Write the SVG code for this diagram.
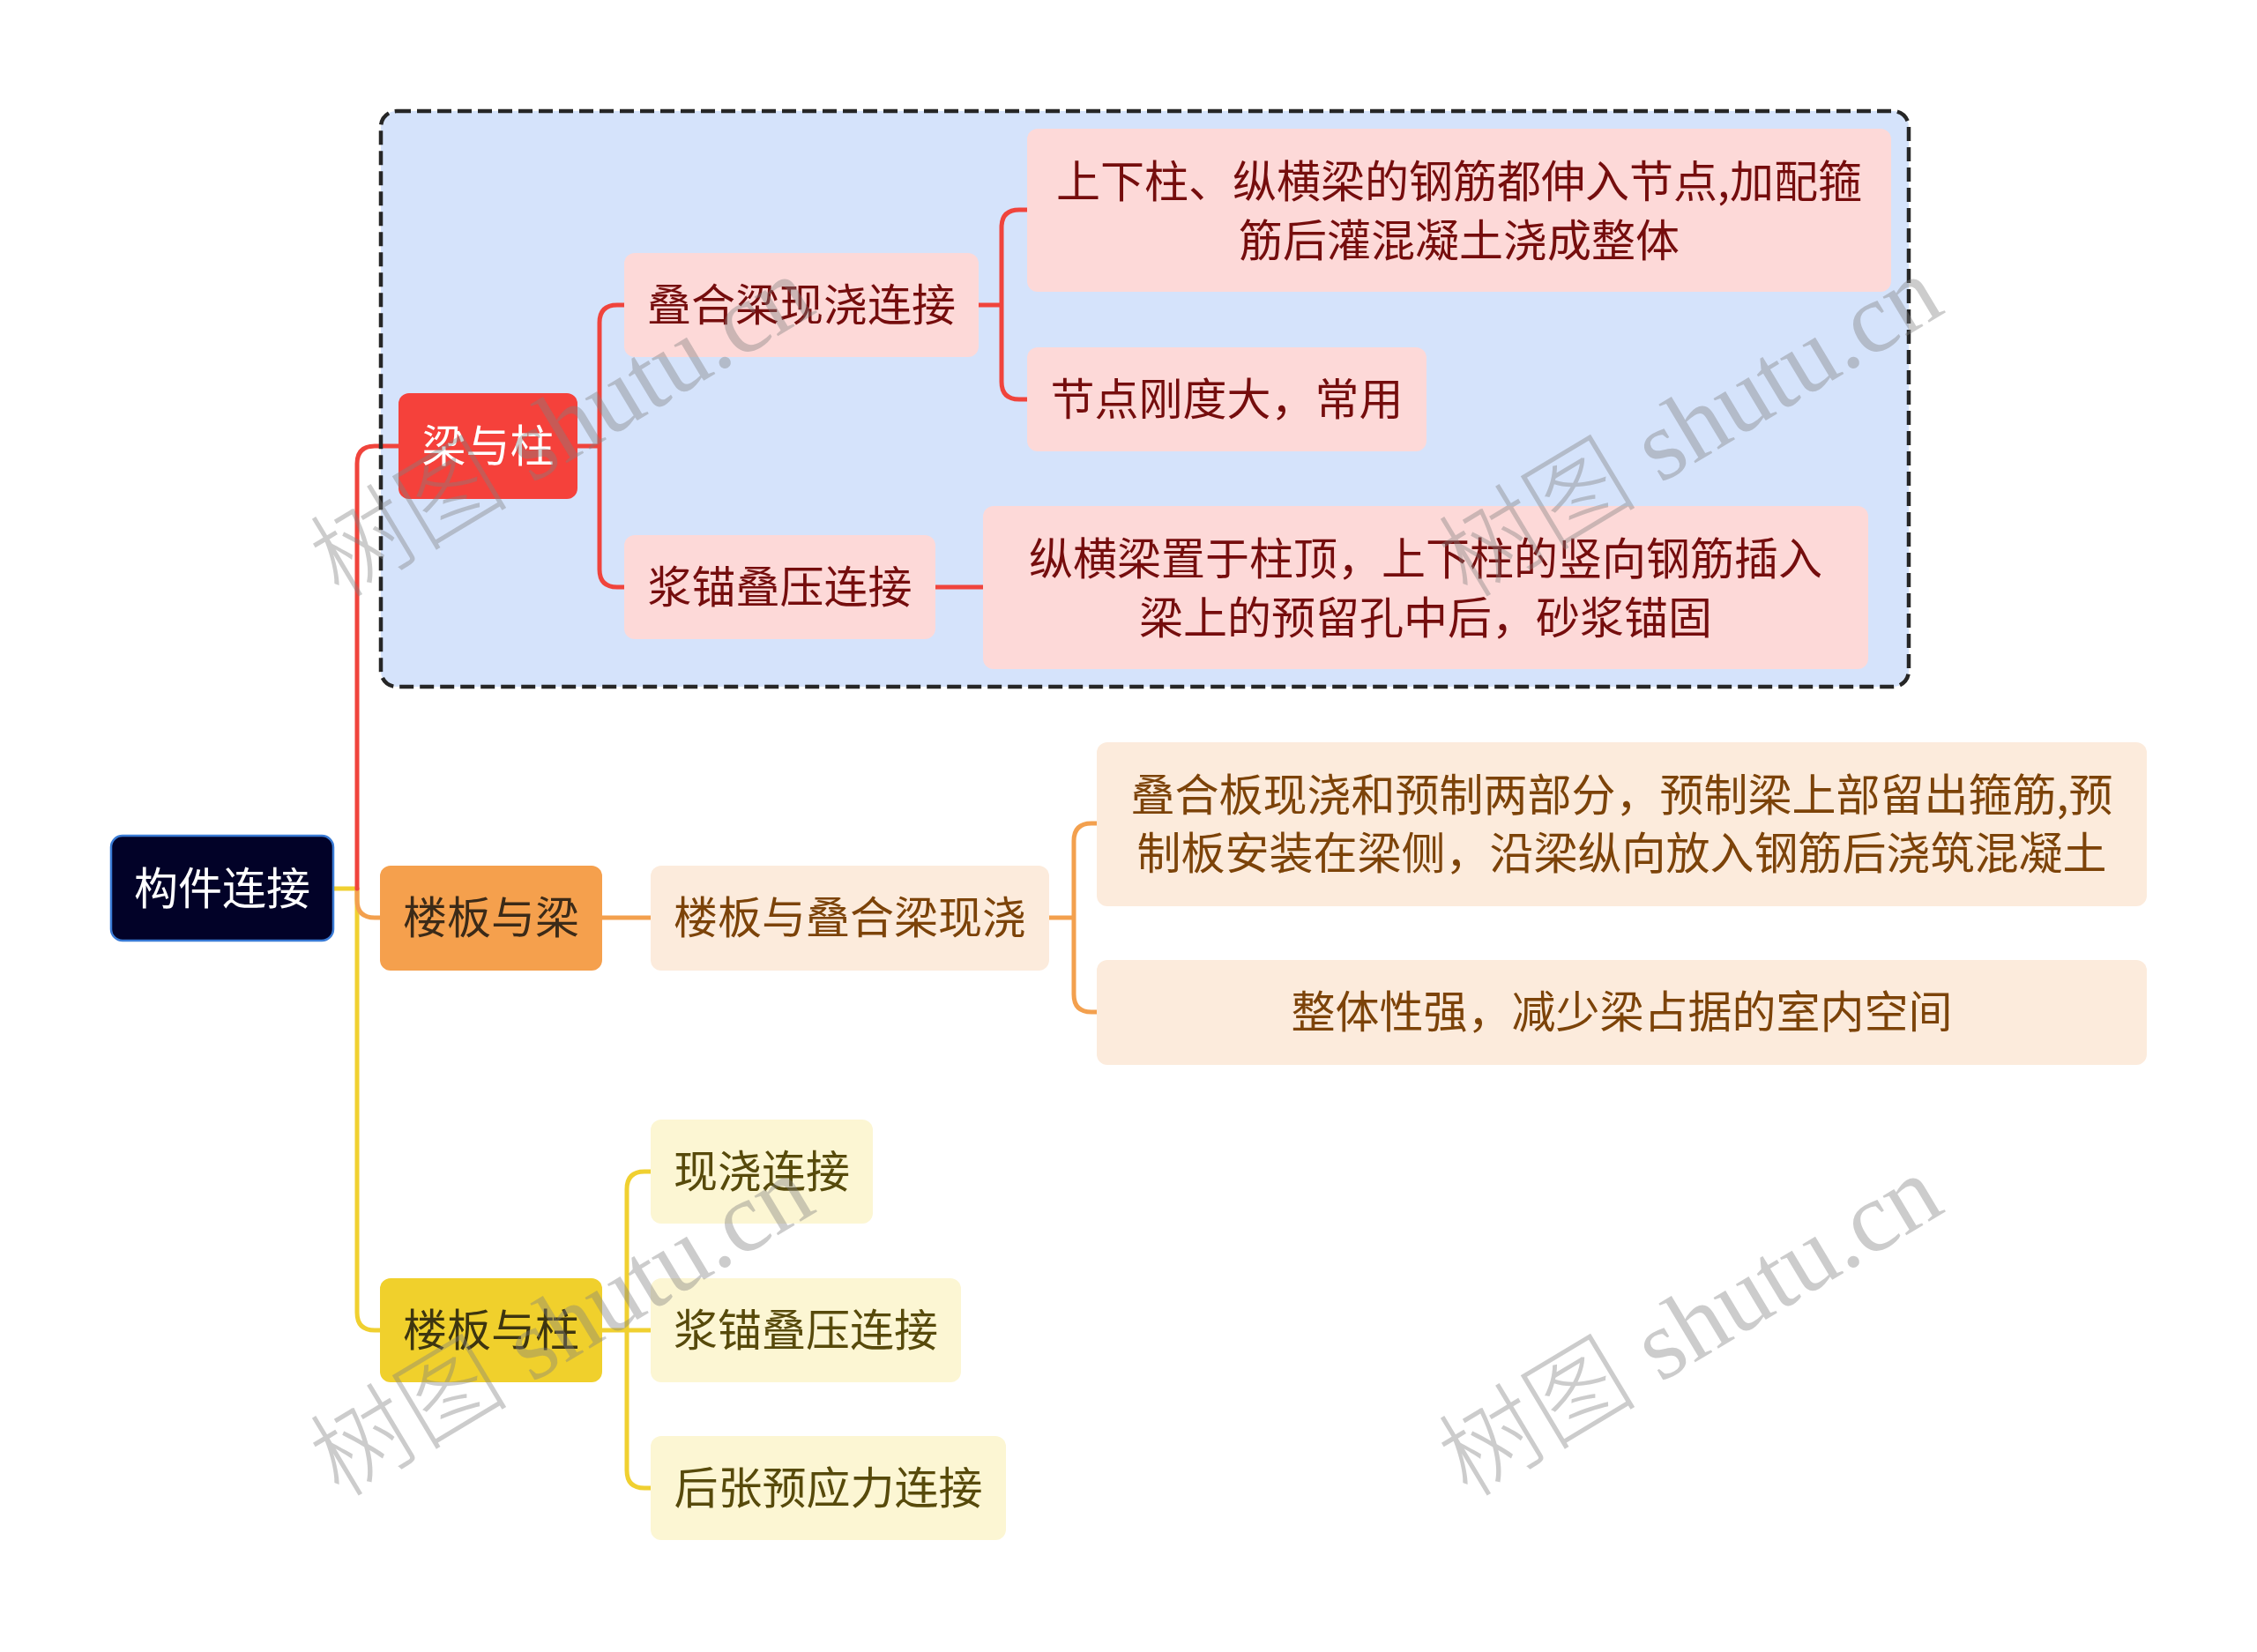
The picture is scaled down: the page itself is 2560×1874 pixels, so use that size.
<svg xmlns="http://www.w3.org/2000/svg" width="2560" height="1874" viewBox="0 0 2560 1874">
<style>
text{font-family:"Noto Sans CJK SC","Noto Sans",sans-serif;font-size:50px;text-anchor:middle}
.ln{fill:none;stroke-width:5;stroke-linecap:round;stroke-linejoin:round}
.r{stroke:#f0443c}.o{stroke:#f3a04e}.y{stroke:#f0d030}
.cr{fill:#fdd9d8}.tr{fill:#750d0d}
.co{fill:#fcebdc}.to{fill:#7c4309}
.cy{fill:#fcf6d3}.ty{fill:#574a0b}
.wm{font-family:"Liberation Serif","Noto Sans CJK SC",serif;font-size:113px;font-weight:300;text-anchor:start;fill:#808080;fill-opacity:0.4}
</style>
<rect width="2560" height="1874" fill="#ffffff"/>
<rect id="boundary-fill" x="432" y="126" width="1733" height="653" rx="18" fill="#d5e3fb"/>
<g id="connectors">
<path class="ln y" d="M378 1008 H405 V1489 Q405 1509 425 1509 H431"/>
<path class="ln o" d="M405 1008 V1021 Q405 1041 425 1041 H431"/>
<path class="ln r" d="M405 1008 V526 Q405 506 425 506 H452"/>
<path class="ln r" d="M655 506 H680 M680 506 V366 Q680 346 700 346 H708 M680 506 V646 Q680 666 700 666 H708"/>
<path class="ln r" d="M1110 346 H1136 M1136 346 V258 Q1136 238 1156 238 H1165 M1136 346 V433 Q1136 453 1156 453 H1165"/>
<path class="ln r" d="M1061 666 H1115"/>
<path class="ln o" d="M683 1041 H738"/>
<path class="ln o" d="M1190 1041 H1218 M1218 1041 V954 Q1218 934 1238 934 H1244 M1218 1041 V1128 Q1218 1148 1238 1148 H1244"/>
<path class="ln y" d="M683 1509 H738 M711 1509 V1349 Q711 1329 731 1329 H738 M711 1509 V1668 Q711 1688 731 1688 H738"/>
</g>
<rect id="boundary" x="432" y="126" width="1733" height="653" rx="18" fill="none" stroke="#262626" stroke-width="4.5" stroke-dasharray="16 7"/>
<g id="root">
<rect x="126" y="948" width="252" height="119" rx="13" fill="#020228" stroke="#3a7bd5" stroke-width="2.5"/>
<text x="252" y="1026" fill="#ffffff">构件连接</text>
</g>
<g id="n-liangyuzhu">
<rect x="452" y="446" width="203" height="120" rx="12" fill="#f5413b"/>
<text x="553.5" y="524" fill="#ffffff">梁与柱</text>
</g>
<g id="n-diehe">
<rect class="cr" x="708" y="287" width="402" height="118" rx="12"/>
<text class="tr" x="909" y="364">叠合梁现浇连接</text>
</g>
<g id="n-jiangmao1">
<rect class="cr" x="708" y="607" width="353" height="118" rx="12"/>
<text class="tr" x="884.5" y="684">浆锚叠压连接</text>
</g>
<g id="n-shangxiazhu">
<rect class="cr" x="1165" y="146" width="980" height="185" rx="12"/>
<text class="tr" x="1655" y="224">上下柱、纵横梁的钢筋都伸入节点,加配箍</text>
<text class="tr" x="1655" y="291">筋后灌混凝土浇成整体</text>
</g>
<g id="n-jiedian">
<rect class="cr" x="1165" y="394" width="453" height="118" rx="12"/>
<text class="tr" x="1391.5" y="471">节点刚度大，常用</text>
</g>
<g id="n-zongheng">
<rect class="cr" x="1115" y="574" width="1004" height="185" rx="12"/>
<text class="tr" x="1617" y="652">纵横梁置于柱顶，上下柱的竖向钢筋插入</text>
<text class="tr" x="1617" y="719">梁上的预留孔中后，砂浆锚固</text>
</g>
<g id="n-loubanyuliang">
<rect x="431" y="982" width="252" height="119" rx="12" fill="#f5a04d"/>
<text x="557" y="1059" fill="#3b2a18">楼板与梁</text>
</g>
<g id="n-loubandiehe">
<rect class="co" x="738" y="982" width="452" height="119" rx="12"/>
<text class="to" x="964" y="1059">楼板与叠合梁现浇</text>
</g>
<g id="n-dieheban">
<rect class="co" x="1244" y="842" width="1191" height="186" rx="12"/>
<text class="to" x="1839.5" y="920">叠合板现浇和预制两部分，预制梁上部留出箍筋,预</text>
<text class="to" x="1839.5" y="986">制板安装在梁侧，沿梁纵向放入钢筋后浇筑混凝土</text>
</g>
<g id="n-zhengti">
<rect class="co" x="1244" y="1089" width="1191" height="119" rx="12"/>
<text class="to" x="1839.5" y="1166">整体性强，减少梁占据的室内空间</text>
</g>
<g id="n-loubanyuzhu">
<rect x="431" y="1450" width="252" height="118" rx="12" fill="#f0d02c"/>
<text x="557" y="1527" fill="#3d3510">楼板与柱</text>
</g>
<g id="n-xianjiao">
<rect class="cy" x="738" y="1270" width="252" height="118" rx="12"/>
<text class="ty" x="864" y="1347">现浇连接</text>
</g>
<g id="n-jiangmao2">
<rect class="cy" x="738" y="1450" width="352" height="118" rx="12"/>
<text class="ty" x="914" y="1527">浆锚叠压连接</text>
</g>
<g id="n-houzhang">
<rect class="cy" x="738" y="1629" width="403" height="118" rx="12"/>
<text class="ty" x="939.5" y="1706">后张预应力连接</text>
</g>
<g id="watermarks">
<text class="wm" transform="translate(385 680) rotate(-31)">树图 shutu.cn</text>
<text class="wm" transform="translate(1665 680) rotate(-31)">树图 shutu.cn</text>
<text class="wm" transform="translate(385 1700) rotate(-31)">树图 shutu.cn</text>
<text class="wm" transform="translate(1665 1700) rotate(-31)">树图 shutu.cn</text>
</g>
</svg>
